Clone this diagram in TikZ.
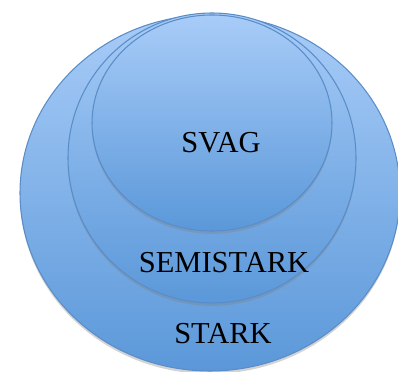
\documentclass[tikz,border=0pt]{standalone}
\usepackage{fontspec}
\setmainfont{Liberation Serif}
\usetikzlibrary{shadows}
\definecolor{ringtop}{HTML}{A8CCF8}
\definecolor{ringbot}{HTML}{5B98D9}
\definecolor{ringline}{HTML}{5A8DC7}
\tikzset{
  ring/.style={draw=ringline, line width=0.9pt, top color=ringtop, bottom color=ringbot,
    drop shadow={opacity=0.35, shadow xshift=0pt, shadow yshift=-2.5pt}},
  ringlabel/.style={font=\fontsize{26}{30}\selectfont, text=black, inner sep=0pt}
}
\begin{document}
\begin{tikzpicture}[x=0.03cm, y=-0.03cm]
\useasboundingbox (0, 0) rectangle (398, 372);
\draw[ring] (210, 193) ellipse (190 and 178);
\draw[ring] (212, 158) ellipse (144 and 145);
\draw[ring] (212, 123) ellipse (120 and 108);
\node[ringlabel] (svag) at (221, 143) {SVAG};
\node[ringlabel] (semi) at (224, 263) {SEMISTARK};
\node[ringlabel] (stark) at (223, 334) {STARK};
\end{tikzpicture}
\end{document}
